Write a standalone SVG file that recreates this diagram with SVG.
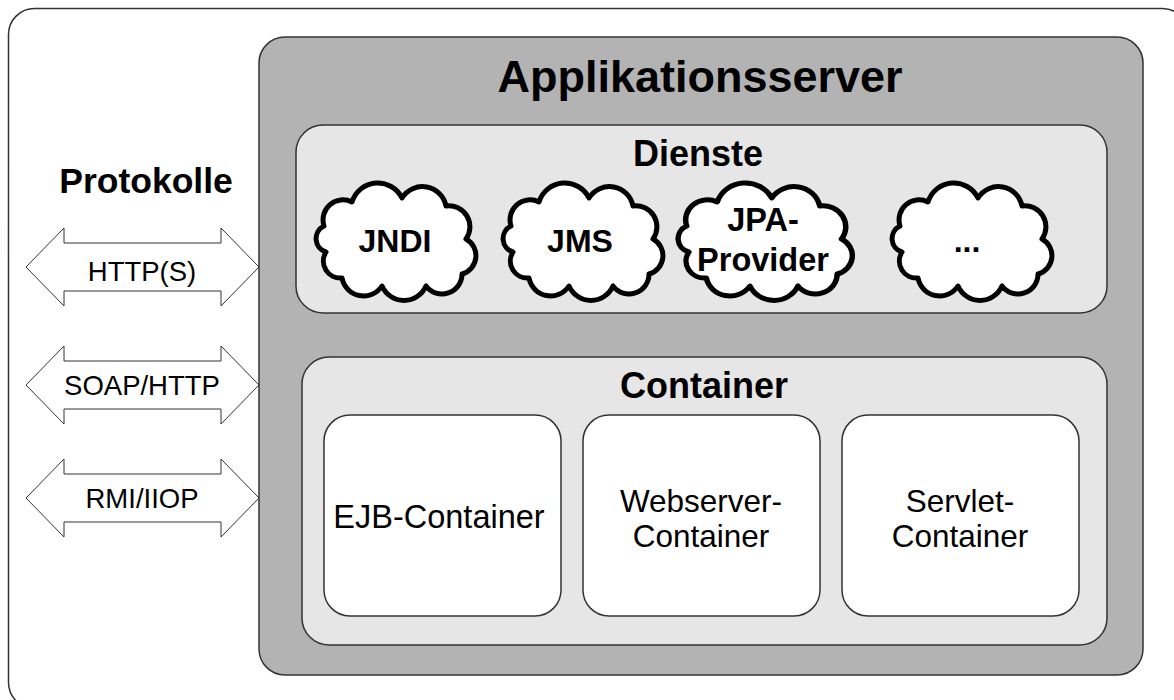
<svg xmlns="http://www.w3.org/2000/svg" xmlns:xlink="http://www.w3.org/1999/xlink" width="1174" height="700" viewBox="0 0 1174 700">
<style>
.frame{fill:#ffffff;stroke:#333333;stroke-width:1.5}
.server{fill:#b3b3b3;stroke:#333333;stroke-width:1.5}
.panel{fill:#e6e6e6;stroke:#333333;stroke-width:1.5}
.box{fill:#ffffff;stroke:#333333;stroke-width:1.5}
.cloud{fill:#ffffff;stroke:#000000;stroke-width:5;stroke-linejoin:round}
.arrow{fill:#ffffff;stroke:#333333;stroke-width:1}
.t{font-family:"Liberation Sans",Arial,sans-serif;fill:#000000;text-anchor:middle}
.b{font-weight:bold}
</style>
<defs>
<path id="cloudShape" d="M8,42 A20,20 0 0 1 36,18 A27,27 0 0 1 86,14 A24,24 0 0 1 130,22 A21,21 0 0 1 150,55 A19,19 0 0 1 146,90 A20,20 0 0 1 110,102 A24,24 0 0 1 66,102 A22,22 0 0 1 26,94 A17,17 0 0 1 10,68 A14,14 0 0 1 8,42 Z"/>
</defs>
<rect class="frame" x="8.5" y="8.5" width="1180" height="700" rx="26"/>
<g id="applikationsserver">
<rect class="server" x="259" y="37" width="884" height="638" rx="26"/>
<text class="t b" x="700" y="92" font-size="45">Applikationsserver</text>
</g>
<g id="protokolle">
<text class="t b" x="146" y="193" font-size="35.5">Protokolle</text>
</g>
<g id="dienste">
<rect class="panel" x="296" y="125" width="811" height="188" rx="27"/>
<text class="t b" x="698" y="166" font-size="36">Dienste</text>
</g>
<g id="jndi">
<use xlink:href="#cloudShape" class="cloud" transform="translate(316,184)"/>
<text class="t b" x="395" y="252" font-size="32">JNDI</text>
</g>
<g id="jms">
<use xlink:href="#cloudShape" class="cloud" transform="translate(503,184)"/>
<text class="t b" x="580" y="252" font-size="32">JMS</text>
</g>
<g id="jpa">
<use xlink:href="#cloudShape" class="cloud" transform="translate(678,184) scale(1.09,1)"/>
<text class="t b" x="763" y="231" font-size="32.5">JPA-</text>
<text class="t b" x="763" y="271" font-size="32.5">Provider</text>
</g>
<g id="weitere">
<use xlink:href="#cloudShape" class="cloud" transform="translate(892,184)"/>
<text class="t b" x="967" y="252" font-size="32">...</text>
</g>
<g id="container">
<rect class="panel" x="302" y="357" width="805" height="288" rx="27"/>
<text class="t b" x="704" y="398" font-size="36">Container</text>
</g>
<g id="ejb-container">
<rect class="box" x="324" y="415" width="237" height="201" rx="26"/>
<text class="t" x="439" y="528" font-size="32.5">EJB-Container</text>
</g>
<g id="webserver-container">
<rect class="box" x="583" y="415" width="237" height="201" rx="26"/>
<text class="t" x="701" y="512" font-size="31.5">Webserver-</text>
<text class="t" x="701" y="547" font-size="31.5">Container</text>
</g>
<g id="servlet-container">
<rect class="box" x="842" y="415" width="237" height="201" rx="26"/>
<text class="t" x="960" y="512" font-size="31.5">Servlet-</text>
<text class="t" x="960" y="547" font-size="31.5">Container</text>
</g>
<g id="connectors">
<polygon class="arrow" points="26,267 64,228 64,243 221,243 221,228 259,267 221,306 221,291 64,291 64,306"/>
<text class="t" x="142" y="281" font-size="27.5">HTTP(S)</text>
<polygon class="arrow" points="26,385 64,346 64,361 221,361 221,346 259,385 221,424 221,409 64,409 64,424"/>
<text class="t" x="142" y="395" font-size="27.5">SOAP/HTTP</text>
<polygon class="arrow" points="26,498 64,459 64,474 221,474 221,459 259,498 221,537 221,522 64,522 64,537"/>
<text class="t" x="142" y="508" font-size="27.5">RMI/IIOP</text>
</g>
</svg>
